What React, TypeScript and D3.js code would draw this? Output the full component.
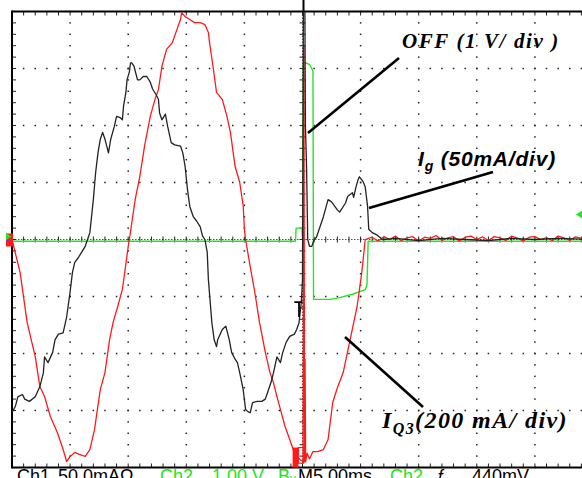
import React from "react";
import * as d3 from "d3";

// ---- Data (time in ms, values in channel units) ----
const igTrace: [number, number][] = [
  [-25.0,-152],[-24.7,-146],[-24.5,-138],[-24.1,-136],[-23.9,-140],[-23.5,-142],[-23.0,-138],[-22.6,-129],[-22.3,-117],[-22.2,-103],[-21.9,-108],[-21.5,-99],[-21.3,-88],[-21.0,-83],[-20.6,-82],[-20.3,-68],[-20.0,-46],[-19.8,-29],[-19.6,-20],[-19.3,-16],[-19.0,-11],[-18.7,-6],[-18.5,0],[-18.3,6],[-18.0,35],[-17.8,59],[-17.6,76],[-17.4,88],[-17.2,94],[-17.0,88],[-16.7,76],[-16.5,88],[-16.2,99],[-16.0,108],[-15.7,107],[-15.5,105],[-15.4,117],[-15.2,129],[-15.1,140],[-14.9,147],[-14.8,155],[-14.7,155],[-14.5,152],[-14.2,140],[-14.0,140],[-13.7,143],[-13.4,143],[-13.1,138],[-12.9,132],[-12.6,127],[-12.4,123],[-12.3,111],[-12.1,105],[-11.8,110],[-11.6,99],[-11.3,85],[-11.0,83],[-10.5,82],[-10.3,76],[-10.1,64],[-9.9,44],[-9.7,29],[-9.4,20],[-9.1,16],[-8.8,11],[-8.6,3],[-8.4,0],[-8.2,-11],[-8.1,-35],[-7.8,-73],[-7.6,-88],[-7.4,-94],[-7.3,-88],[-6.9,-79],[-6.6,-76],[-6.3,-88],[-6.1,-99],[-5.8,-105],[-5.6,-108],[-5.4,-117],[-5.1,-132],[-4.9,-149],[-4.7,-151],[-4.5,-152],[-4.3,-143],[-3.9,-142],[-3.5,-142],[-3.2,-140],[-3.0,-134],[-2.7,-125],[-2.5,-117],[-2.2,-103],[-1.9,-108],[-1.7,-99],[-1.4,-90],[-1.1,-85],[-0.7,-83],[-0.5,-79],[-0.3,-73],[-0.1,-55],[0.0,-35],[0.08,215],[0.2,215],[0.25,100],[0.35,64],[0.45,0],[0.6,-6],[0.8,-6],[1.0,0],[1.2,2],[1.5,11],[1.8,20],[2.2,35],[2.5,33],[3.0,26],[3.2,24],[3.7,32],[3.9,38],[4.3,41],[4.4,37],[4.6,46],[4.8,53],[4.9,55],[5.2,51],[5.4,46],[5.6,29],[5.7,9],[6.0,6],[6.4,4],[6.9,0],[8,1],[10,-1],[12,1],[14,0],[16,-1],[18,1],[20,0],[22,1],[25,0]
];

const iq3Trace: [number, number][] = [
  [-25.0,0],[-24.3,-116],[-23.7,-291],[-23.0,-411],[-22.6,-516],[-22.2,-551],[-21.7,-621],[-21.1,-677],[-20.6,-737],[-20.3,-779],[-20.0,-761],[-19.6,-747],[-19.2,-754],[-18.7,-761],[-18.3,-737],[-17.9,-667],[-17.4,-526],[-17.0,-467],[-16.6,-351],[-16.3,-291],[-15.9,-235],[-15.5,-175],[-15.3,-116],[-15.0,-25],[-14.9,0],[-14.4,140],[-14.0,221],[-13.6,326],[-13.1,432],[-12.7,491],[-12.4,526],[-12.1,607],[-11.7,667],[-11.2,691],[-10.9,726],[-10.5,772],[-10.4,796],[-10.1,782],[-9.7,772],[-9.3,761],[-8.8,761],[-8.4,754],[-8.1,726],[-8.0,691],[-7.7,607],[-7.4,516],[-6.9,491],[-6.5,432],[-6.2,375],[-5.8,256],[-5.4,200],[-5.1,116],[-5.0,35],[-4.9,0],[-4.5,-95],[-4.1,-186],[-3.7,-291],[-3.2,-396],[-2.8,-467],[-2.5,-502],[-2.2,-551],[-1.9,-596],[-1.5,-656],[-1.1,-702],[-0.8,-737],[-0.5,-761],[-0.2,-772],[0.05,-780],[0.12,680],[0.18,-780],[0.22,-420],[0.27,-780],[0.4,-750],[0.6,-770],[0.9,-744],[1.3,-744],[1.8,-737],[2.2,-702],[2.6,-572],[3.0,-520],[3.5,-467],[4.1,-351],[4.7,-235],[5.1,-116],[5.4,0],[6.0,8],[6.5,-5],[7.0,10],[7.5,0],[8.0,12],[8.5,-4],[9.0,6],[9.5,10],[10.0,-6],[10.5,8],[11.0,4],[11.5,14],[12.0,-3],[12.5,6],[13,10],[13.5,-5],[14,8],[14.5,12],[15,0],[15.5,9],[16,-4],[16.5,10],[17,6],[17.5,-3],[18,12],[18.5,5],[19,-5],[19.5,8],[20,10],[20.5,0],[21,7],[21.5,-4],[22,12],[22.5,6],[23,-3],[23.5,9],[24,4],[24.5,10],[25,0]
];

const offTrace: [number, number][] = [
  [-25,-0.03],[-0.6,-0.03],[-0.55,0.2],[-0.05,0.2],[0.0,0],[0.08,3.1],[0.3,3.1],[0.6,3.07],[0.8,3.0],[0.9,2.95],[0.95,-1.05],[1.1,-1.05],[2.4,-1.05],[3.2,-1.02],[4.3,-0.96],[5.4,-0.88],[5.55,-0.8],[5.65,-0.03],[25,-0.03]
];

// channel scale factors (units per division)
const timeDomain = [-25, 25];      // ms (M 5.00ms/div)
const igPerDiv = 50;               // mA/div
const iq3PerDiv = 200;             // mA/div
const offPerDiv = 1;               // V/div
const triggerLevelV = 0.44;        // Ch2 trigger 440mV

const statusItems = [
  { text: "Ch1", color: "#000", at: 17 },
  { text: "50.0mAΩ", color: "#000", at: 58 },
  { text: "Ch2", color: "#19e619", at: 160 },
  { text: "1.00 V", color: "#19e619", at: 212 },
  { text: "Bᵥ", color: "#19e619", at: 278 },
  { text: "M5.00ms", color: "#000", at: 298 },
  { text: "Ch2", color: "#19e619", at: 390 },
  { text: "ƒ", color: "#000", at: 436 },
  { text: "440mV", color: "#000", at: 472 },
];

const W = 582, H = 478;
const left = 12, right = 593, top = 11.5, bottom = 467.5;

export default function App() {
  const x = d3.scaleLinear().domain(timeDomain).range([left, right]);
  const yDiv = d3.scaleLinear().domain([-4, 4]).range([bottom, top]);
  const yIg = d3.scaleLinear().domain([-4 * igPerDiv, 4 * igPerDiv]).range([bottom, top]);
  const yIq = d3.scaleLinear().domain([-4 * iq3PerDiv, 4 * iq3PerDiv]).range([bottom, top]);
  const yOff = d3.scaleLinear().domain([-4 * offPerDiv, 4 * offPerDiv]).range([bottom, top]);

  const lineOf = (ys: d3.ScaleLinear<number, number>) =>
    d3.line<[number, number]>().x((d) => x(d[0])).y((d) => ys(d[1]));

  const majorX = d3.range(-25, 25.001, 5);
  const majorY = d3.range(-4, 4.001, 1);
  const minorXs = d3.range(-25, 25.001, 1); // 0.2 div
  const minorYs = d3.range(-4, 4.001, 0.2);
  const fineYs = d3.range(-4, 4.001, 0.2);

  const dots: JSX.Element[] = [];
  majorX.forEach((t, i) => {
    if (t === -25 || t === 0) return;
    minorYs.forEach((v, j) => {
      dots.push(<rect key={`vx${i}-${j}`} x={x(t) - 0.75} y={yDiv(v) - 0.75} width={1.5} height={1.5} fill="#222" />);
    });
  });
  majorY.forEach((v, i) => {
    if (v === 0 || Math.abs(v) === 4) return;
    minorXs.forEach((t, j) => {
      dots.push(<rect key={`hy${i}-${j}`} x={x(t) - 0.75} y={yDiv(v) - 0.75} width={1.5} height={1.5} fill="#222" />);
    });
  });

  const x0 = x(0), y0 = yDiv(0);

  return (
    <svg width={W} height={H} style={{ position: "fixed", left: 0, top: 0, background: "#fff" }}
      xmlns="http://www.w3.org/2000/svg">
      <defs>
        <clipPath id="plot"><rect x={left} y={top} width={right - left} height={bottom - top} /></clipPath>
      </defs>
      <rect width={W} height={H} fill="#fff" />
      {dots}
      {/* center horizontal axis */}
      <line x1={left} x2={W} y1={y0} y2={y0} stroke="#555" strokeWidth={1} strokeDasharray="1.5 1.5" />
      {minorXs.map((t) => (
        <line key={`cx${t}`} x1={x(t)} x2={x(t)} y1={y0 - 3} y2={y0 + 3} stroke="#222" strokeWidth={1} />
      ))}
      {/* center vertical axis */}
      <line x1={x0} x2={x0} y1={top} y2={bottom} stroke="#555" strokeWidth={1} strokeDasharray="1.5 1.5" />
      {fineYs.map((v) => (
        <line key={`cy${v}`} x1={x0 - 3} x2={x0 + 3} y1={yDiv(v)} y2={yDiv(v)} stroke="#222" strokeWidth={1} />
      ))}
      {/* border ticks */}
      {minorXs.map((t) => (
        <g key={`bt${t}`}>
          <line x1={x(t)} x2={x(t)} y1={top} y2={top + 4} stroke="#222" strokeWidth={1} />
          <line x1={x(t)} x2={x(t)} y1={bottom - 4} y2={bottom} stroke="#222" strokeWidth={1} />
        </g>
      ))}
      {minorYs.map((v) => (
        <line key={`lt${v}`} x1={left} x2={left + 4} y1={yDiv(v)} y2={yDiv(v)} stroke="#222" strokeWidth={1} />
      ))}
      {/* borders */}
      <line x1={left} x2={W} y1={top} y2={top} stroke="#000" strokeWidth={2} />
      <line x1={left} x2={W} y1={bottom} y2={bottom} stroke="#000" strokeWidth={2} />
      <line x1={left} x2={left} y1={top - 1} y2={bottom + 1} stroke="#000" strokeWidth={2} />
      {/* trigger position marker above the graticule */}
      <line x1={x0 + 1} x2={x0 + 1} y1={0} y2={top} stroke="#000" strokeWidth={2} />

      <g clipPath="url(#plot)" fill="none" strokeLinejoin="round">
        <path d={lineOf(yOff)(offTrace) || ""} stroke="#22e622" strokeWidth={1.4} />
        <path d={lineOf(yIq)(iq3Trace) || ""} stroke="#ff1a1a" strokeWidth={1.3} />
        <path d={lineOf(yIg)(igTrace) || ""} stroke="#222" strokeWidth={1.3} />
      </g>

      {/* red glitch block near bottom, before switching */}
      <rect x={x(-0.85)} y={yIq(-730)} width={x(-0.35) - x(-0.85)} height={yIq(-800) - yIq(-730)} fill="#ff1a1a" />
      <rect x={x(-0.35)} y={yIq(-730)} width={x(0.1) - x(-0.35)} height={yIq(-785) - yIq(-730)} fill="none" stroke="#ff1a1a" strokeWidth={1.2} />
      {/* trigger "T" marker on Ig */}
      <path d={`M${x(-0.7)},${yIg(-55)} H${x(0)} M${x(-0.3)},${yIg(-55)} V${yIg(-68)}`} stroke="#000" strokeWidth={1.8} fill="none" />

      {/* ground markers on the left */}
      <rect x={6} y={y0 - 6} width={7} height={13} fill="#ff1a1a" />
      <path d={`M6,${y0 - 7} L11,${y0 - 3} L6,${y0 + 1} Z`} fill="#22e622" />
      <circle cx={8} cy={y0 + 1} r={1.5} fill="#b020c0" />
      {/* trigger level marker on the right */}
      <path d={`M${W - 6},${yOff(triggerLevelV)} L${W},${yOff(triggerLevelV) - 4} L${W},${yOff(triggerLevelV) + 4} Z`} fill="#22e622" />

      {/* annotations */}
      <line x1={399} y1={58} x2={308} y2={133} stroke="#000" strokeWidth={2.6} />
      <line x1={493} y1={172} x2={369} y2={208} stroke="#000" strokeWidth={2.6} />
      <line x1={345} y1={337} x2={423} y2={407} stroke="#000" strokeWidth={2.6} />

      <text x={402} y={48} fontFamily="'Liberation Serif', 'Times New Roman', serif" fontStyle="italic" fontWeight="bold"
        fontSize={21} letterSpacing={1.6} fill="#000">OFF (1 V/ div )</text>
      <text x={418} y={166} fontFamily="'Liberation Sans', Arial, sans-serif" fontStyle="italic" fontWeight="bold"
        fontSize={21} letterSpacing={0.8} fill="#000">
        I<tspan fontSize={14} dy={5}>g</tspan><tspan dy={-5}> (50mA/div)</tspan>
      </text>
      <text x={382} y={428} fontFamily="'Liberation Serif', 'Times New Roman', serif" fontStyle="italic" fontWeight="bold"
        fontSize={24} letterSpacing={1.4} fill="#000">
        I<tspan fontSize={16} dy={6}>Q3</tspan><tspan dy={-6}>(200 mA/ div)</tspan>
      </text>

      {/* status line, cut by the frame bottom */}
      {statusItems.map((s, i) => (
        <text key={i} x={s.at} y={482} fontFamily="'Liberation Sans', Arial, sans-serif" fontSize={18} fill={s.color}>{s.text}</text>
      ))}
    </svg>
  );
}
